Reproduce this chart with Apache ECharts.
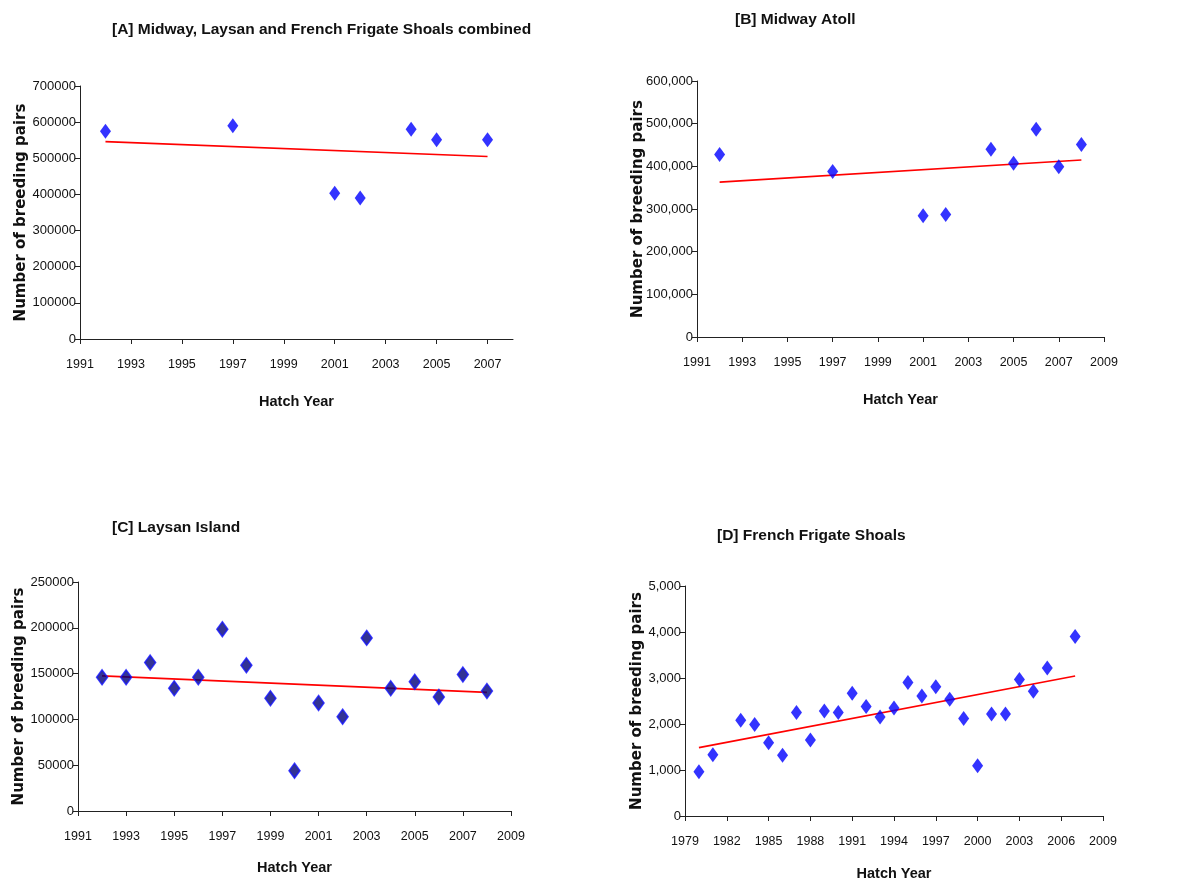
<!DOCTYPE html>
<html>
<head>
<meta charset="utf-8">
<script src="https://cdn.jsdelivr.net/npm/echarts@6/dist/echarts.min.js"></script>
<style>
  html, body { margin: 0; padding: 0; background: #fff; }
  #chart { width: 1187px; height: 882px; }
</style>
</head>
<body>
<div id="chart"></div>
<script>
// [A] combined
const yearsA = [1992, 1997, 2001, 2002, 2004, 2005, 2007];
const pairsA = [575000, 590000, 403000, 390000, 580000, 551000, 551000];
const trendYearsA = [1992, 2007];
const trendA = [546000, 505000];
const xTicksA = [1991, 1993, 1995, 1997, 1999, 2001, 2003, 2005, 2007];

// [B] Midway
const yearsB = [1992, 1997, 2001, 2002, 2004, 2005, 2006, 2007, 2008];
const pairsB = [428000, 388000, 284000, 287000, 440000, 407000, 487000, 399000, 451000];
const trendYearsB = [1992, 2008];
const trendB = [363000, 415000];
const xTicksB = [1991, 1993, 1995, 1997, 1999, 2001, 2003, 2005, 2007, 2009];

// [C] Laysan
const yearsC = [1992, 1993, 1994, 1995, 1996, 1997, 1998, 1999, 2000, 2001, 2002, 2003, 2004, 2005, 2006, 2007, 2008];
const pairsC = [146000, 146000, 162000, 134000, 146000, 198500, 159000, 123000, 44000, 118000, 103000, 189000, 134000, 141000, 124500, 149000, 131000];
const trendYearsC = [1992, 2008];
const trendC = [147500, 129500];
const xTicksC = [1991, 1993, 1995, 1997, 1999, 2001, 2003, 2005, 2007, 2009];

// [D] French Frigate Shoals
const yearsD = [1980, 1981, 1983, 1984, 1985, 1986, 1987, 1988, 1989, 1990, 1991, 1992, 1993, 1994, 1995, 1996, 1997, 1998, 1999, 2000, 2001, 2002, 2003, 2004, 2005, 2007];
const pairsD = [960, 1330, 2080, 1990, 1590, 1320, 2250, 1650, 2280, 2250, 2670, 2380, 2150, 2350, 2900, 2610, 2810, 2540, 2120, 1090, 2220, 2220, 2970, 2710, 3220, 3900];
const trendYearsD = [1980, 2007];
const trendD = [1486, 3043];
const xTicksD = [1979, 1982, 1985, 1988, 1991, 1994, 1997, 2000, 2003, 2006, 2009];

const sans = '"Liberation Sans", Arial, sans-serif';
const wide = '"DejaVu Sans", "Liberation Sans", sans-serif';
const axisColor = '#222';

const zip = (xs, ys) => xs.map((x, i) => [x, ys[i]]);
const commas = (v) => v.toLocaleString('en-US');

function xAxis(idx, min, max, ticks, gap) {
  return {
    type: 'value', gridIndex: idx, min: min, max: max,
    name: 'Hatch Year', nameLocation: 'middle', nameGap: gap, nameMoveOverlap: false,
    nameTextStyle: { fontFamily: sans, fontWeight: 'bold', fontSize: 14.5, color: '#111' },
    splitLine: { show: false },
    axisLine: { lineStyle: { color: axisColor, width: 1 } },
    axisTick: { customValues: ticks, length: 5, lineStyle: { color: axisColor } },
    axisLabel: { customValues: ticks, margin: 19, fontFamily: sans, fontSize: 12.5, color: '#111', formatter: (v) => String(v) }
  };
}

function yAxis(idx, max, interval, fmt, gap) {
  return {
    type: 'value', gridIndex: idx, min: 0, max: max, interval: interval,
    name: 'Number of breeding pairs', nameLocation: 'middle', nameGap: gap, nameMoveOverlap: false,
    nameTextStyle: { fontFamily: wide, fontWeight: 'bold', fontSize: 15, color: '#111' },
    splitLine: { show: false },
    axisLine: { show: true, lineStyle: { color: axisColor, width: 1 } },
    axisTick: { show: true, length: 5, lineStyle: { color: axisColor } },
    axisLabel: { margin: 4, fontFamily: sans, fontSize: 13, color: '#111', formatter: fmt }
  };
}

function points(idx, xs, ys, dark) {
  return {
    type: 'scatter', xAxisIndex: idx, yAxisIndex: idx,
    symbol: 'diamond', symbolSize: [11, 15],
    itemStyle: dark
      ? { color: '#00007a', borderColor: '#1515ff', borderWidth: 1.5 }
      : { color: '#0000ff' },
    data: zip(xs, ys), z: 3
  };
}

function trend(idx, xs, ys) {
  return {
    type: 'line', xAxisIndex: idx, yAxisIndex: idx,
    symbol: 'none', lineStyle: { color: '#ff0000', width: 1.6 },
    data: zip(xs, ys), z: 2
  };
}

const titleStyle = { fontFamily: sans, fontWeight: 'bold', fontSize: 15.5, color: '#111' };

const chart = echarts.init(document.getElementById('chart'));
chart.setOption({
  animation: false,
  backgroundColor: '#fff',
  title: [
    { text: '[A] Midway, Laysan and French Frigate Shoals combined', left: 107, top: 17, textStyle: titleStyle },
    { text: '[B] Midway Atoll', left: 730, top: 7, textStyle: titleStyle },
    { text: '[C] Laysan Island', left: 107, top: 515, textStyle: titleStyle },
    { text: '[D] French Frigate Shoals', left: 712, top: 523, textStyle: titleStyle }
  ],
  grid: [
    { left: 80, top: 86, width: 433, height: 253 },
    { left: 697, top: 81, width: 407, height: 256 },
    { left: 78, top: 582, width: 433, height: 229 },
    { left: 685, top: 586, width: 418, height: 230 }
  ],
  xAxis: [
    xAxis(0, 1991, 2008, xTicksA, 55),
    xAxis(1, 1991, 2009, xTicksB, 55),
    xAxis(2, 1991, 2009, xTicksC, 49),
    xAxis(3, 1979, 2009, xTicksD, 50)
  ],
  yAxis: [
    yAxis(0, 700000, 100000, (v) => String(v), 51),
    yAxis(1, 600000, 100000, commas, 51),
    yAxis(2, 250000, 50000, (v) => String(v), 51),
    yAxis(3, 5000, 1000, commas, 40)
  ],
  series: [
    trend(0, trendYearsA, trendA), points(0, yearsA, pairsA, false),
    trend(1, trendYearsB, trendB), points(1, yearsB, pairsB, false),
    trend(2, trendYearsC, trendC), points(2, yearsC, pairsC, true),
    trend(3, trendYearsD, trendD), points(3, yearsD, pairsD, false)
  ]
});
</script>
</body>
</html>
